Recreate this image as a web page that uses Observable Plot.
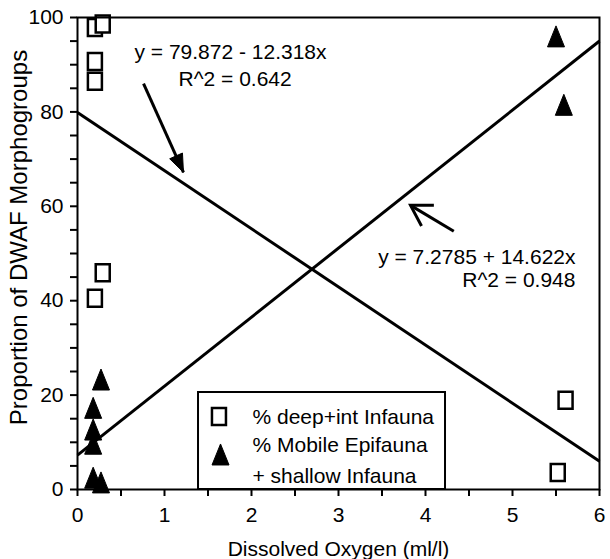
<!DOCTYPE html>
<html><head><meta charset="utf-8">
<script src="https://cdn.jsdelivr.net/npm/d3@7"></script>
<script src="https://cdn.jsdelivr.net/npm/@observablehq/plot@0.6"></script>
<style>
html,body{margin:0;padding:0;background:#fff}
</style>
</head><body><div id="chart"></div>
<script>
// ---- data ----
const deepX   = [0.20, 0.29, 0.20, 0.20, 0.29, 0.20, 5.61, 5.52];
const deepY   = [97.9, 98.6, 90.7, 86.5, 45.9, 40.5, 18.9, 3.6];
const mobileX = [0.27, 0.18, 0.18, 0.18, 0.18, 0.27, 5.50, 5.59];
const mobileY = [23.3, 17.3, 12.7, 9.7, 2.5, 1.5, 96.0, 81.5];
// printed regression coefficients [intercept, slope]
const fitDeep   = [79.872, -12.318];
const fitMobile = [7.2785, 14.622];
const xRange = [0, 6];
const yRange = [0, 100];
const xTicks = [0, 0.5, 1, 1.5, 2, 2.5, 3, 3.5, 4, 4.5, 5, 5.5, 6];
const xTickLabels = [0, 1, 2, 3, 4, 5, 6];
const yTicks = [0, 5, 10, 15, 20, 25, 30, 35, 40, 45, 50, 55, 60, 65, 70, 75, 80, 85, 90, 95, 100];
const yTickLabels = [0, 20, 40, 60, 80, 100];
const xLabel = "Dissolved Oxygen (ml/l)";
const yLabel = "Proportion of DWAF Morphogroups";
const eqStart = [
  {x: 0.655, y: 91.25, text: "y = 79.872 - 12.318x"},
  {x: 1.161, y: 85.4,  text: "R^2 = 0.642"}
];
const eqEnd = [
  {x: 5.724, y: 47.7, text: "y = 7.2785 + 14.622x"},
  {x: 5.724, y: 42.9, text: "R^2 = 0.948"}
];
const arrowDeep   = {x1: 0.759, y1: 86.0, x2: 1.218, y2: 67.2};
const arrowMobile = {x1: 4.325, y1: 54.7, x2: 3.828, y2: 60.2};
const legendBox = {x1: 1.391, x2: 4.23, y1: 0, y2: 20.55};
const legendLabels = ["% deep+int Infauna", "% Mobile Epifauna", "+ shallow Infauna"];
const legendLabelY = [13.98, 7.84, 1.48];
const legendLabelX = 2.011;
const legendSymbols = [{x: 1.626, y: 15.47, k: "deep"}, {x: 1.644, y: 7.42, k: "mobile"}];

// ---- layout ----
const W = 610, H = 559, ML = 77, MR = 11, MT = 17, MB = 70;
const xs = d3.scaleLinear(xRange, [ML, W - MR]);
const ys = d3.scaleLinear(yRange, [H - MB, MT]);

const deep = deepX.map((x, i) => ({x, y: deepY[i]}));
const mobile = mobileX.map((x, i) => ({x, y: mobileY[i]}));
const fitLines = [fitDeep, fitMobile].map(([a, b]) => ({x1: xRange[0], y1: a + b * xRange[0], x2: xRange[1], y2: a + b * xRange[1]}));

const squareSym = {draw(ctx) { ctx.rect(-7, -8.5, 14, 17); }};
const triSym = {draw(ctx) { ctx.moveTo(0, -10.5); ctx.lineTo(8.5, 10.5); ctx.lineTo(-8.5, 10.5); ctx.closePath(); }};
function angleOf(a) { return Math.atan2(ys(a.y2) - ys(a.y1), xs(a.x2) - xs(a.x1)); }
function headSym(theta, len, half, closed) {
  return {draw(ctx) {
    const ux = Math.cos(theta), uy = Math.sin(theta), px = -uy, py = ux;
    ctx.moveTo(-ux * len + px * half, -uy * len + py * half);
    ctx.lineTo(0, 0);
    ctx.lineTo(-ux * len - px * half, -uy * len - py * half);
    if (closed) ctx.closePath();
  }};
}

const chart = Plot.plot({
  width: W, height: H,
  marginLeft: ML, marginRight: MR, marginTop: MT, marginBottom: MB,
  style: {fontFamily: "'Liberation Sans', Arial, Helvetica, sans-serif", fontSize: "21px", background: "white", color: "black"},
  x: {domain: xRange, label: null},
  y: {domain: yRange, label: null},
  marks: [
    Plot.axisX({ticks: xTicks, tickFormat: () => "", tickSize: 7, strokeWidth: 2, label: null}),
    Plot.axisY({ticks: yTicks, tickFormat: () => "", tickSize: 7, strokeWidth: 2, label: null}),
    Plot.text(xTickLabels, {x: d => d, y: () => yRange[0], text: d => String(d), dy: 18, lineAnchor: "top", textAnchor: "middle", fontSize: 21}),
    Plot.text(yTickLabels, {x: () => xRange[0], y: d => d, text: d => String(d), dx: -14, lineAnchor: "middle", textAnchor: "end", fontSize: 21}),
    Plot.link(fitLines, {x1: "x1", y1: "y1", x2: "x2", y2: "y2", stroke: "black", strokeWidth: 3}),
    Plot.rect([legendBox], {x1: "x1", x2: "x2", y1: "y1", y2: "y2", fill: "white", stroke: "black", strokeWidth: 2}),
    Plot.dot(legendSymbols.filter(d => d.k === "deep"), {x: "x", y: "y", symbol: squareSym, fill: "white", stroke: "black", strokeWidth: 2.5}),
    Plot.dot(legendSymbols.filter(d => d.k === "mobile"), {x: "x", y: "y", symbol: triSym, fill: "black", stroke: "black", strokeWidth: 1}),
    Plot.text(legendLabels, {x: () => legendLabelX, y: (d, i) => legendLabelY[i], text: d => d, textAnchor: "start", lineAnchor: "bottom", fontSize: 21}),
    Plot.dot(deep, {x: "x", y: "y", symbol: squareSym, fill: "white", stroke: "black", strokeWidth: 2.5}),
    Plot.dot(mobile, {x: "x", y: "y", symbol: triSym, fill: "black", stroke: "black", strokeWidth: 1}),
    Plot.text(eqStart, {x: "x", y: "y", text: "text", textAnchor: "start", lineAnchor: "bottom", fontSize: 21}),
    Plot.text(eqEnd, {x: "x", y: "y", text: "text", textAnchor: "end", lineAnchor: "bottom", fontSize: 21}),
    Plot.link([arrowDeep, arrowMobile], {x1: "x1", y1: "y1", x2: "x2", y2: "y2", stroke: "black", strokeWidth: 3}),
    Plot.dot([arrowDeep], {x: "x2", y: "y2", symbol: headSym(angleOf(arrowDeep), 18, 7, true), fill: "black", stroke: "black", strokeWidth: 1}),
    Plot.dot([arrowMobile], {x: "x2", y: "y2", symbol: headSym(angleOf(arrowMobile), 20, 12, false), fill: "none", stroke: "black", strokeWidth: 3}),
    Plot.text([xLabel], {text: d => d, frameAnchor: "bottom", dy: 66, lineAnchor: "bottom", textAnchor: "middle", fontSize: 21}),
    Plot.text([yLabel], {text: d => d, frameAnchor: "left", rotate: -90, dx: -68, dy: -16, lineAnchor: "top", textAnchor: "middle", fontSize: 24}),
    Plot.frame({stroke: "black", strokeWidth: 2})
  ]
});
document.getElementById("chart").appendChild(chart);
</script>
</body></html>
